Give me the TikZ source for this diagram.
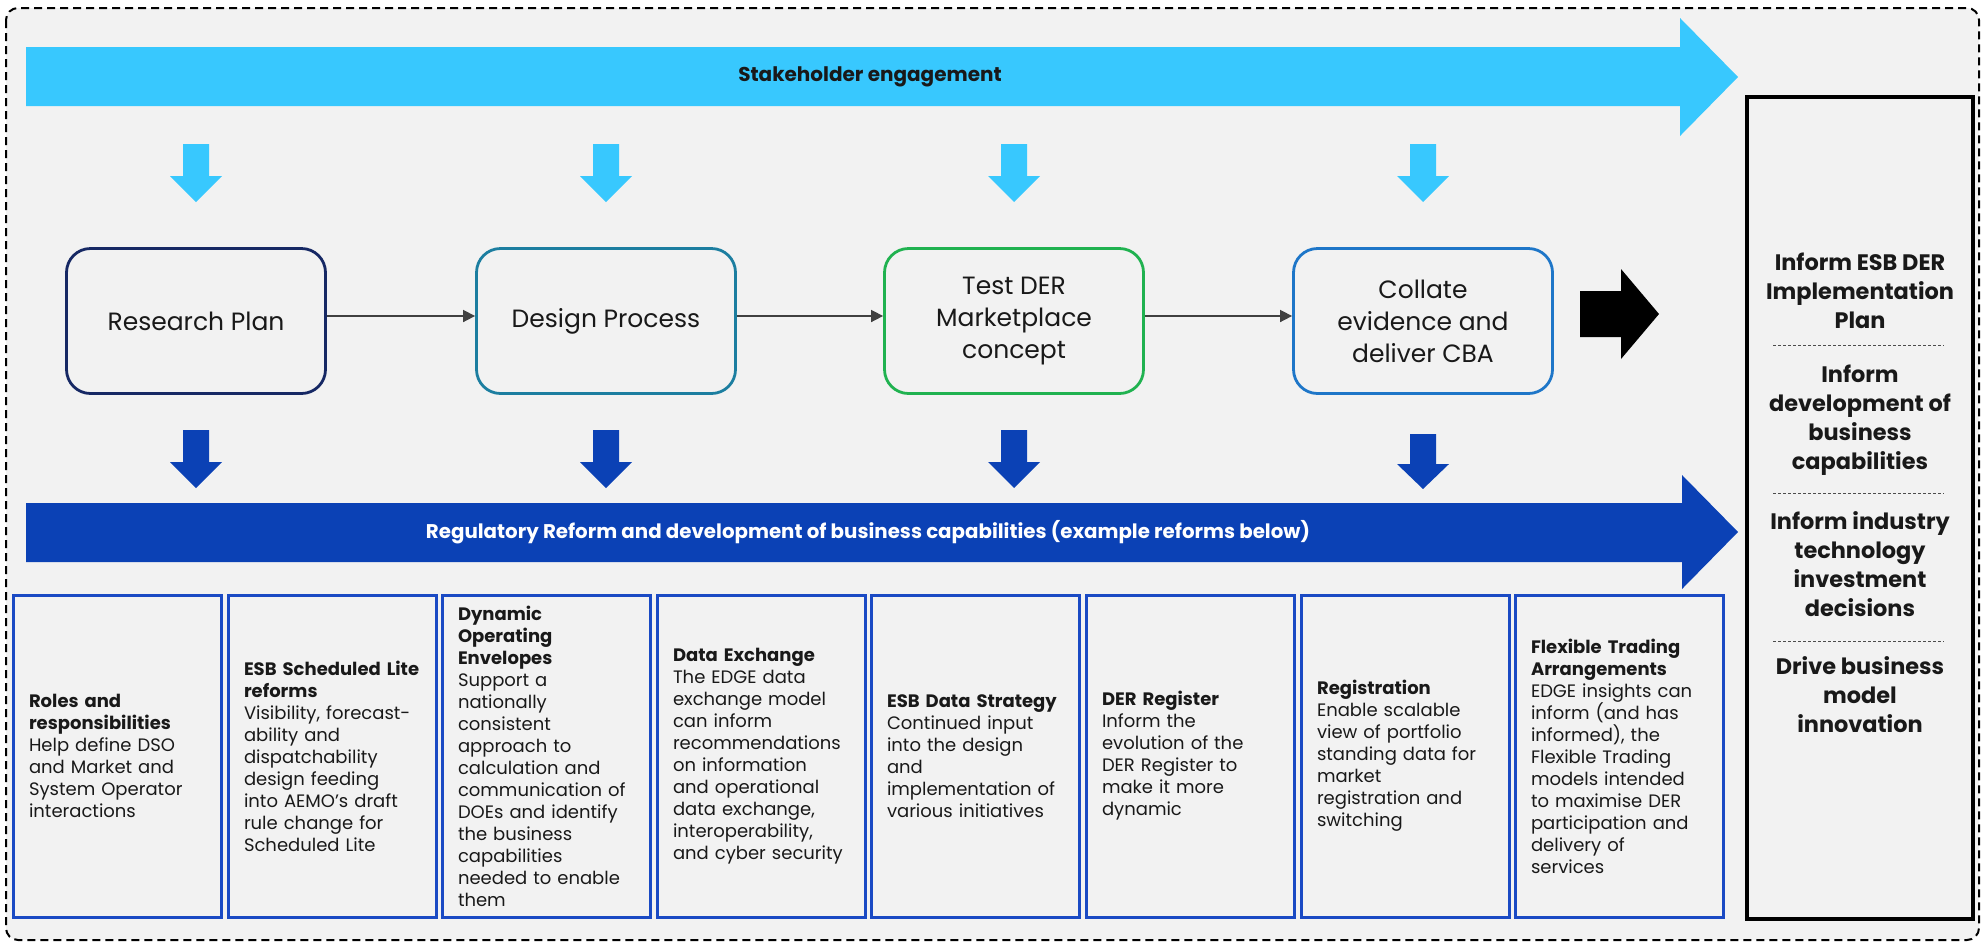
\documentclass[tikz,border=0pt]{standalone}
\usepackage{fontspec}
\setmainfont{Poppins}
\usetikzlibrary{arrows.meta}

\definecolor{skyblue}{RGB}{56,200,254}
\definecolor{regblue}{RGB}{11,65,181}
\definecolor{framegray}{RGB}{242,242,242}
\definecolor{boxblue}{RGB}{26,74,196}
\definecolor{navyline}{RGB}{22,40,100}
\definecolor{tealline}{RGB}{28,126,160}
\definecolor{greenline}{RGB}{32,178,80}
\definecolor{midblue}{RGB}{30,118,200}
\definecolor{linkgray}{RGB}{64,64,64}

\begin{document}
\begin{tikzpicture}[x=0.5pt, y=-0.5pt,
	stage/.style={rectangle, rounded corners=12pt, line width=1.4pt, minimum width=129.5pt, minimum height=72.5pt, align=center, text=black!90, font=\fontsize{12.5}{16}\selectfont},
	reform/.style={rectangle, draw=boxblue, line width=1.5pt, minimum height=161pt, text width=88pt, inner xsep=8pt, inner ysep=2pt, align=left, text=black!90, font=\fontsize{9}{11}\selectfont},
	outcome/.style={align=center, text=black!90, font=\fontsize{11.2}{14.5}\selectfont\bfseries},
	divider/.style={draw=black!70, line width=0.4pt, dash pattern=on 1.5pt off 1pt},
	link/.style={draw=linkgray, line width=0.8pt, -{Triangle[length=6pt,width=6pt]}}]
				\useasboundingbox (0,0) rectangle (1986,944);
				\draw[fill=framegray, line width=1pt, dash pattern=on 4pt off 2.5pt, rounded corners=6pt] (6,8) rectangle (1979,940);
				
				\fill[skyblue] (26,47) -- (1680,47) -- (1680,18) -- (1738,77) -- (1680,136) -- (1680,106) -- (26,106) -- cycle;
				\fill[regblue] (26,503) -- (1682,503) -- (1682,475) -- (1738,532) -- (1682,589) -- (1682,562) -- (26,562) -- cycle;
				\node[text=black!90, font=\fontsize{10}{12}\selectfont\bfseries] (engage) at (870,77) {Stakeholder engagement};
				\node[text=white, font=\fontsize{9.9}{12}\selectfont\bfseries] (regreform) at (868,532) {Regulatory Reform and development of business capabilities (example reforms below)};
				
				\fill[skyblue] (183,144) -- (209,144) -- (209,176) -- (222,176) -- (196,202) -- (170,176) -- (183,176) -- cycle;
				\fill[skyblue] (593,144) -- (619,144) -- (619,176) -- (632,176) -- (606,202) -- (580,176) -- (593,176) -- cycle;
				\fill[skyblue] (1001,144) -- (1027,144) -- (1027,176) -- (1040,176) -- (1014,202) -- (988,176) -- (1001,176) -- cycle;
				\fill[skyblue] (1410,144) -- (1436,144) -- (1436,176) -- (1449,176) -- (1423,202) -- (1397,176) -- (1410,176) -- cycle;
				
				\fill[regblue] (183,430) -- (209,430) -- (209,462) -- (222,462) -- (196,488) -- (170,462) -- (183,462) -- cycle;
				\fill[regblue] (593,430) -- (619,430) -- (619,462) -- (632,462) -- (606,488) -- (580,462) -- (593,462) -- cycle;
				\fill[regblue] (1001,430) -- (1027,430) -- (1027,462) -- (1040,462) -- (1014,488) -- (988,462) -- (1001,462) -- cycle;
				\fill[regblue] (1410,434) -- (1436,434) -- (1436,464) -- (1449,464) -- (1423,489) -- (1397,464) -- (1410,464) -- cycle;
				
				\node[stage, draw=navyline] (plan) at (196,321) {Research Plan};
				\node[stage, draw=tealline] (design) at (606,321) {Design Process};
				\node[stage, draw=greenline] (test) at (1014,321) {Test DER\\Marketplace\\concept};
				\node[stage, draw=midblue] (collate) at (1423,321) {Collate\\evidence and\\deliver CBA};
				
				\path ([yshift=2.5pt]plan.east) edge[link] ([yshift=2.5pt]design.west);
				\path ([yshift=2.5pt]design.east) edge[link] ([yshift=2.5pt]test.west);
				\path ([yshift=2.5pt]test.east) edge[link] ([yshift=2.5pt]collate.west);
				
				\fill[black] (1580,291) -- (1621,291) -- (1621,269) -- (1659,314) -- (1621,359) -- (1621,337) -- (1580,337) -- cycle;
				
				\node[reform] (roles) at (117,756) {\textbf{Roles and}\\\textbf{responsibilities}\\Help define DSO\\and Market and\\System Operator\\interactions};
				\node[reform] (lite) at (332,756) {\textbf{ESB Scheduled Lite}\\\textbf{reforms}\\Visibility, forecast-\\ability and\\dispatchability\\design feeding\\into AEMO's draft\\rule change for\\Scheduled Lite};
				\node[reform] (doe) at (546,756) {\textbf{Dynamic}\\\textbf{Operating}\\\textbf{Envelopes}\\Support a\\nationally\\consistent\\approach to\\calculation and\\communication of\\DOEs and identify\\the business\\capabilities\\needed to enable\\them};
				\node[reform] (exchange) at (761,756) {\textbf{Data Exchange}\\The EDGE data\\exchange model\\can inform\\recommendations\\on information\\and operational\\data exchange,\\interoperability,\\and cyber security};
				\node[reform] (strategy) at (975,756) {\textbf{ESB Data Strategy}\\Continued input\\into the design\\and\\implementation of\\various initiatives};
				\node[reform] (register) at (1190,756) {\textbf{DER Register}\\Inform the\\evolution of the\\DER Register to\\make it more\\dynamic};
				\node[reform] (registration) at (1405,756) {\textbf{Registration}\\Enable scalable\\view of portfolio\\standing data for\\market\\registration and\\switching};
				\node[reform] (trading) at (1619,756) {\textbf{Flexible Trading}\\\textbf{Arrangements}\\EDGE insights can\\inform (and has\\informed), the\\Flexible Trading\\models intended\\to maximise DER\\participation and\\delivery of\\services};
				
				\node[draw=black, line width=2.4pt, minimum width=113pt, minimum height=411pt] (panel) at (1860,508) {};
				\node[outcome] (implplan) at (1860,291) {Inform ESB DER\\Implementation\\Plan};
				\node[outcome] (develop) at (1860,420) {Inform\\development of\\business\\capabilities};
				\node[outcome] (invest) at (1860,564) {Inform industry\\technology\\investment\\decisions};
				\node[outcome] (innov) at (1860,695) {Drive business\\model\\innovation};
				\draw[divider] (1773,345) -- (1944,345);
				\draw[divider] (1773,493) -- (1944,493);
				\draw[divider] (1773,641) -- (1944,641);
				\end{tikzpicture}
\end{document}
